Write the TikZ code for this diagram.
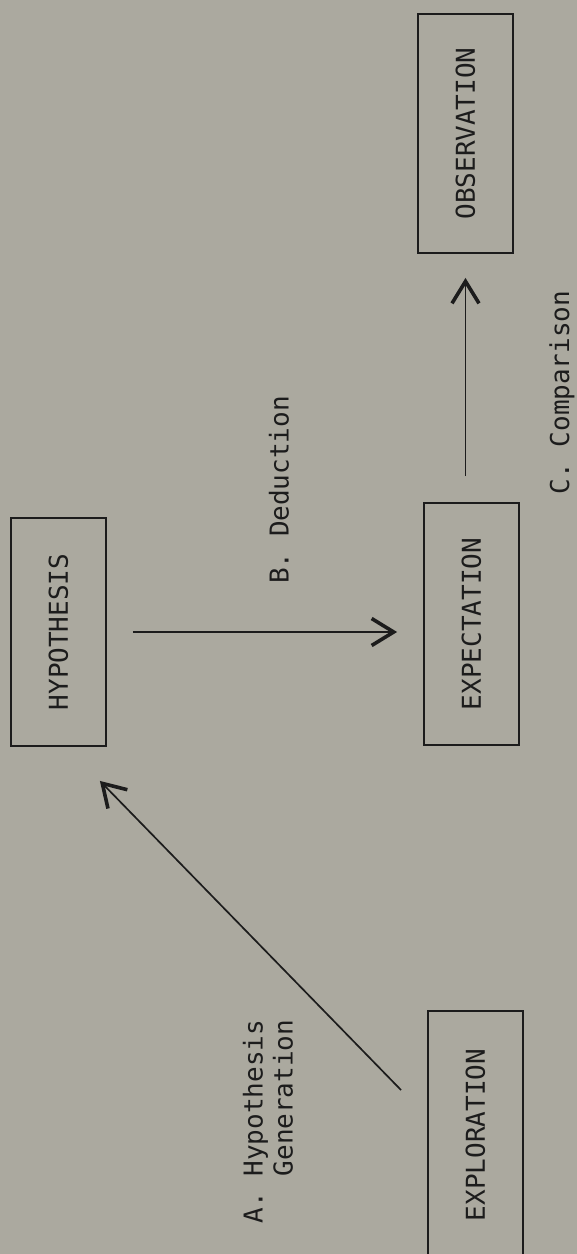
\documentclass[tikz,border=0pt]{standalone}
\usepackage{fontspec}
\setmonofont{DejaVu Sans Mono}
\usepackage{tikz}
\usetikzlibrary{arrows.meta}
\definecolor{paper}{RGB}{171,169,159}
\definecolor{ink}{RGB}{28,28,28}

\begin{document}
\begin{tikzpicture}[x=0.5pt,y=-0.5pt]
	\tikzset{stage/.style={draw=ink,line width=0.9pt,inner sep=0pt,minimum width=47.5pt,text=ink,font=\ttfamily\fontsize{13}{15}\selectfont}};
	\tikzset{tag/.style={inner sep=0pt,text=ink,align=left,rotate=90,font=\ttfamily\fontsize{13}{15}\selectfont}};
	\tikzset{flow/.style={draw=ink,line width=0.85pt,-{Straight Barb[length=11pt,width=13.5pt,line width=1.8pt]}}};
	\useasboundingbox (0,0) rectangle (577,1254);
	\fill[paper] (0,0) rectangle (577,1254);

	% the four stages
	\node[stage,minimum height=114pt] (hyp) at (58.5,632) {\rotatebox{90}{HYPOTHESIS}};
	\node[stage,minimum height=121pt] (exp) at (471.5,624) {\rotatebox{90}{EXPECTATION}};
	\node[stage,minimum height=119.5pt] (obs) at (465.5,133.5) {\rotatebox{90}{OBSERVATION}};
	\node[stage,minimum height=124pt] (expl) at (475.5,1135) {\rotatebox{90}{EXPLORATION}};

	\draw[flow] ([shift={(-26,80)}]expl.north west) -- ([shift={(-7,34)}]hyp.south east);
	\draw[flow,shorten <=13pt,shorten >=13pt] (hyp.east) -- (hyp.east -| exp.west);
	\draw[flow,shorten <=13pt,shorten >=12pt] (exp.north -| obs.south) -- (obs.south);

	\node[tag] (lblgen) at (268,1121.5) {A.~Hypothesis\\\phantom{A.~}Generation};
	\node[tag] (lblded) at (279,490) {B.~Deduction};
	\node[tag] (lblcmp) at (562,392.5) {C.~Comparison};
\end{tikzpicture}
\end{document}
